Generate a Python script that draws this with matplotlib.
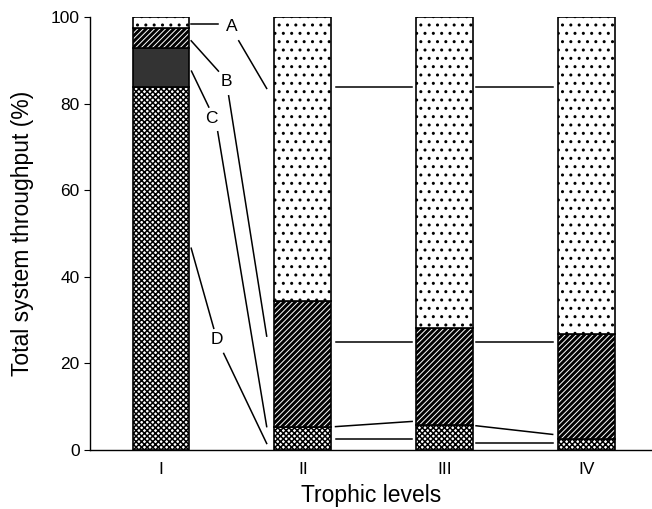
import matplotlib
matplotlib.use("Agg")
import matplotlib.pyplot as plt
import numpy as np

plt.rcParams["font.family"] = ["Liberation Sans", "DejaVu Sans"]
plt.rcParams["hatch.linewidth"] = 1.0

levels = ["I", "II", "III", "IV"]
seg_d = [83.8, 5.2, 5.8, 2.6]
seg_c = [9.0, 0.0, 0.0, 0.0]
seg_b = [4.6, 29.3, 22.3, 24.3]
seg_a = [2.6, 65.5, 71.9, 73.1]

# connector lines between bars: (x0, y0, x1, y1)
connectors = [
    (1.23, 83.9, 1.77, 83.9),
    (1.23, 24.9, 1.77, 24.9),
    (1.23, 5.4, 1.77, 6.6),
    (1.23, 2.5, 1.77, 2.5),
    (2.22, 83.9, 2.76, 83.9),
    (2.22, 24.9, 2.76, 24.9),
    (2.22, 5.6, 2.76, 3.6),
    (2.22, 1.7, 2.76, 1.7),
]

# labels with leader lines: label, (x, y), first line, second line
labels = [
    ("A", (0.50, 97.9), (0.213, 98.4, 0.405, 98.4), (0.548, 94.5, 0.745, 83.5)),
    ("B", (0.463, 85.1), (0.213, 94.5, 0.405, 87.5), (0.477, 81.8, 0.745, 26.3)),
    ("C", (0.358, 76.6), (0.215, 87.5, 0.337, 79.2), (0.40, 73.5, 0.745, 5.4)),
    ("D", (0.394, 25.5), (0.213, 46.6, 0.372, 28.1), (0.442, 22.3, 0.745, 1.5)),
]

fig = plt.figure(figsize=(6.52, 5.09), dpi=100)
ax = fig.add_axes([90 / 652, 59 / 509, 562 / 652, 433 / 509])

x = np.arange(len(levels))
width = 0.4

# values, face colour, hatch colour, hatch, hatch linewidth
segments = [
    (seg_d, "white", "black", "xxxxxx", 1.1),
    (seg_c, "#333333", "#333333", None, 1.0),
    (seg_b, "black", "white", "//////", 0.7),
    (seg_a, "white", "black", "..", 1.0),
]

bottom = np.zeros(len(levels))
for vals, face, hcol, hatch, hlw in segments:
    vals = np.array(vals)
    with plt.rc_context({"hatch.linewidth": hlw}):
        ax.bar(x, vals, width, bottom=bottom, color=face, edgecolor=hcol,
               hatch=hatch, linewidth=0)
    ax.bar(x, vals, width, bottom=bottom, fill=False, edgecolor="black",
           linewidth=1.2)
    bottom = bottom + vals

for x0, y0, x1, y1 in connectors:
    ax.plot([x0, x1], [y0, y1], color="black", lw=1.1)

for name, (lx, ly), l1, l2 in labels:
    ax.plot([l1[0], l1[2]], [l1[1], l1[3]], color="black", lw=1.1)
    ax.plot([l2[0], l2[2]], [l2[1], l2[3]], color="black", lw=1.1)
    ax.text(lx, ly, name, fontsize=12.5, ha="center", va="center")

ax.set_xlim(-0.5, 3.46)
ax.set_ylim(0, 100)
ax.set_xticks(x)
ax.set_xticklabels(levels, fontsize=12.5)
ax.set_yticks([0, 20, 40, 60, 80, 100])
ax.tick_params(axis="y", labelsize=12.5, length=4, direction="out")
ax.tick_params(axis="x", length=0, pad=9)
for s in ["top", "right"]:
    ax.spines[s].set_visible(False)
ax.spines["left"].set_linewidth(1.0)
ax.spines["bottom"].set_linewidth(1.0)
ax.set_xlabel("Trophic levels", fontsize=16.5, labelpad=5)
ax.set_ylabel("Total system throughput (%)", fontsize=16.5, labelpad=12)

fig.savefig("out.png", dpi=100)
